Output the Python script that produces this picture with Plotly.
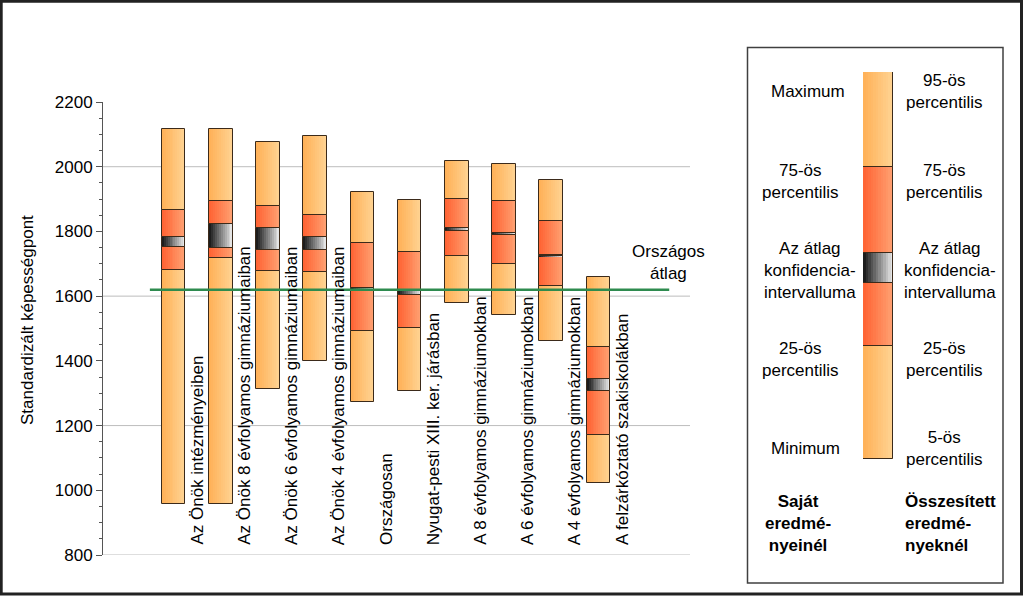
import plotly.graph_objects as go

# ---------------- data ----------------
categories = [
    "Az Önök intézményeiben",
    "Az Önök 8 évfolyamos gimnáziumaiban",
    "Az Önök 6 évfolyamos gimnáziumaiban",
    "Az Önök 4 évfolyamos gimnáziumaiban",
    "Országosan",
    "Nyugat-pesti XIII. ker. járásban",
    "A 8 évfolyamos gimnáziumokban",
    "A 6 évfolyamos gimnáziumokban",
    "A 4 évfolyamos gimnáziumokban",
    "A felzárkóztató szakiskolákban",
]
p_low = [958, 958, 1312, 1400, 1273, 1307, 1579, 1541, 1460, 1021]
p25 = [1682, 1718, 1679, 1674, 1491, 1502, 1723, 1700, 1631, 1170]
ci_low = [1751, 1748, 1742, 1743, 1618, 1603, 1801, 1790, 1724, 1306]
ci_high = [1784, 1824, 1810, 1782, 1624, 1616, 1810, 1796, 1728, 1345]
p75 = [1866, 1893, 1879, 1850, 1763, 1735, 1899, 1895, 1831, 1442]
p_high = [2116, 2116, 2076, 2095, 1922, 1897, 2017, 2008, 1959, 1660]
national_mean = 1620
national_label = "Országos<br>átlag"

y_ticks = [800, 1000, 1200, 1400, 1600, 1800, 2000, 2200]
grid_values = [800, 1200, 1600, 2000]
y_title = "Standardizált képességpont"

# schematic legend column (arbitrary units)
legend_levels = [0, 113, 176, 206, 292, 387]
legend_left = ["Maximum", "75-ös<br>percentilis", "Az átlag<br>konfidencia-<br>intervalluma",
               "25-ös<br>percentilis", "Minimum"]
legend_right = ["95-ös<br>percentilis", "75-ös<br>percentilis", "Az átlag<br>konfidencia-<br>intervalluma",
                "25-ös<br>percentilis", "5-ös<br>percentilis"]
legend_left_title = "<b>Saját<br>eredmé-<br>nyeinél</b>"
legend_right_title = "<b>Összesített<br>eredmé-<br>nyeknél</b>"

# ---------------- styles ----------------
W, H = 1024, 597
FONT = "Liberation Sans, Arial, sans-serif"
ORANGE = ((255, 176, 86), (255, 212, 148))
RED = ((255, 98, 50), (255, 162, 115))
CI = ((20, 20, 20), (238, 238, 238))
OUTLINE = "#3b2a1a"
N_STRIPS = 12
BAR_W = 0.5


def mix(c, t):
    a, b = c
    return "rgb(%d,%d,%d)" % tuple(round(a[i] + (b[i] - a[i]) * t) for i in range(3))


def px_x(p):
    return p / W


def px_y(p):
    return 1 - p / H


fig = go.Figure()


def add_column(xs, levels_list, width, xaxis, yaxis):
    """levels_list: list of 6 lists (bounds of 5 segments) per column."""
    seg_styles = [ORANGE, RED, CI, RED, ORANGE]
    n = len(xs)
    xv, base, length, styles = [], [], [], []
    for s in range(5):
        for i in range(n):
            lo = levels_list[s][i]
            hi = levels_list[s + 1][i]
            xv.append(xs[i])
            base.append(lo)
            length.append(hi - lo)
            styles.append(seg_styles[s])
    sw = width / N_STRIPS
    for k in range(N_STRIPS):
        t = (k + 0.5) / N_STRIPS
        fig.add_trace(go.Bar(
            x=xv, y=length, base=base,
            width=sw * 1.25 if k < N_STRIPS - 1 else sw,
            offset=-width / 2 + k * sw,
            marker=dict(color=[mix(c, t) for c in styles], line=dict(width=0)),
            xaxis=xaxis, yaxis=yaxis, showlegend=False, hoverinfo="skip",
        ))
    fig.add_trace(go.Bar(
        x=xv, y=length, base=base, width=width, offset=-width / 2,
        marker=dict(color="rgba(0,0,0,0)", line=dict(color=OUTLINE, width=1)),
        xaxis=xaxis, yaxis=yaxis, showlegend=False, hoverinfo="skip",
    ))


xs = list(range(len(categories)))
add_column(xs, [p_low, p25, ci_low, ci_high, p75, p_high], BAR_W, "x", "y")

# national average line
fig.add_trace(go.Scatter(
    x=[-0.5, len(categories) + 0.5], y=[national_mean, national_mean],
    mode="lines", line=dict(color="#2e8b4f", width=2.5),
    showlegend=False, hoverinfo="skip",
))

# legend column
add_column([0], [[v] for v in legend_levels], 1.0, "x2", "y2")

# gridlines
shapes = []
for g in grid_values:
    shapes.append(dict(type="line", xref="x domain", yref="y", x0=0, x1=1, y0=g, y1=g,
                       line=dict(color="#bdbdbd", width=1), layer="below"))
# legend box
shapes.append(dict(type="rect", xref="paper", yref="paper",
                   x0=px_x(747.5), x1=px_x(1003), y0=px_y(583), y1=px_y(47.5),
                   line=dict(color="#404040", width=1.5)))
# outer frame
shapes.append(dict(type="rect", xref="paper", yref="paper",
                   x0=px_x(1.2), x1=px_x(1021.5), y0=px_y(594), y1=px_y(1.2),
                   line=dict(color="#222222", width=3)))

annotations = []
for i, c in enumerate(categories):
    annotations.append(dict(
        x=i + 0.5, y=px_y(547), xref="x", yref="paper", text=c, textangle=-90,
        xanchor="center", yanchor="bottom", showarrow=False,
        font=dict(size=17, color="black", family=FONT),
    ))
annotations.append(dict(x=px_x(668), y=px_y(262), xref="paper", yref="paper",
                        text=national_label, showarrow=False, xanchor="center", yanchor="middle",
                        font=dict(size=17, color="black", family=FONT)))
annotations.append(dict(x=px_x(27), y=px_y(320), xref="paper", yref="paper",
                        text=y_title, textangle=-90, showarrow=False,
                        xanchor="center", yanchor="middle",
                        font=dict(size=17, color="black", family=FONT)))

left_pos = [(808, 92), (800, 181), (810, 270), (800, 359), (805, 448)]
right_pos = [(944, 92), (944, 181), (950, 270), (944, 359), (944, 448)]
for txt, (px, py) in zip(legend_left, left_pos):
    annotations.append(dict(x=px_x(px), y=px_y(py), xref="paper", yref="paper", text=txt,
                            showarrow=False, xanchor="center", yanchor="middle", align="center",
                            font=dict(size=17, color="black", family=FONT)))
for txt, (px, py) in zip(legend_right, right_pos):
    annotations.append(dict(x=px_x(px), y=px_y(py), xref="paper", yref="paper", text=txt,
                            showarrow=False, xanchor="center", yanchor="middle", align="center",
                            font=dict(size=17, color="black", family=FONT)))
annotations.append(dict(x=px_x(798), y=px_y(523), xref="paper", yref="paper", text=legend_left_title,
                        showarrow=False, xanchor="center", yanchor="middle", align="center",
                        font=dict(size=17, color="black", family=FONT)))
annotations.append(dict(x=px_x(903), y=px_y(523), xref="paper", yref="paper", text=legend_right_title,
                        showarrow=False, xanchor="left", yanchor="middle", align="left",
                        font=dict(size=17, color="black", family=FONT)))

fig.update_layout(
    width=W, height=H, margin=dict(l=0, r=0, t=0, b=0, pad=0, autoexpand=False),
    paper_bgcolor="white", plot_bgcolor="white",
    barmode="overlay", bargap=0,
    font=dict(family=FONT, color="black"),
    xaxis=dict(domain=[px_x(103), px_x(690)], range=[-1.493, 10.94], visible=False, automargin=False),
    yaxis=dict(domain=[px_y(555), px_y(102)], range=[800, 2200], tickvals=y_ticks, automargin=False,
               showgrid=False, zeroline=False, showline=True, linecolor="#555555", linewidth=1,
               ticks="outside", ticklen=6, tickcolor="#555555",
               minor=dict(dtick=50, ticks="outside", ticklen=3, tickcolor="#555555", showgrid=False),
               tickfont=dict(size=17, color="black", family=FONT)),
    xaxis2=dict(domain=[px_x(863), px_x(893)], range=[-0.5, 0.5], visible=False, anchor="y2",
                automargin=False),
    yaxis2=dict(domain=[px_y(459), px_y(72)], range=[0, legend_levels[-1]], visible=False, anchor="x2",
                automargin=False),
    shapes=shapes, annotations=annotations,
)

fig.write_html("out.html")
